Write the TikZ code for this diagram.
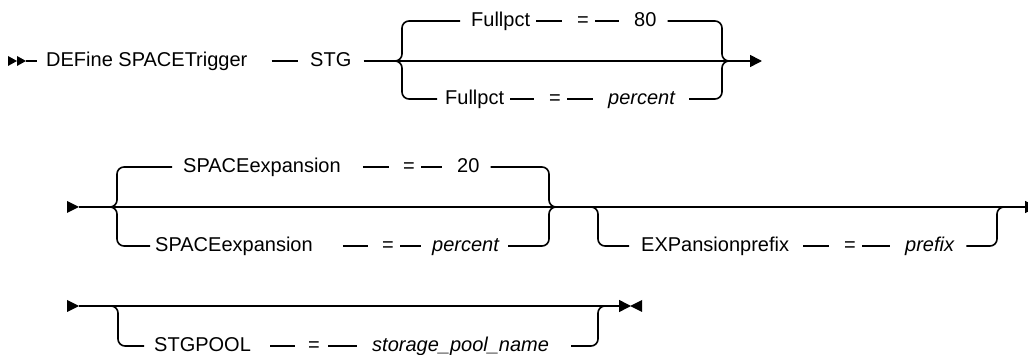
\documentclass[tikz,border=0pt]{standalone}
\usepackage{fontspec}
\setmainfont{Liberation Sans}
\usetikzlibrary{arrows.meta}

\begin{document}
\fontsize{20}{24}\selectfont
\begin{tikzpicture}[x=1pt,y=-1pt,
  kw/.style={font=\fontsize{20}{24}\selectfont,anchor=mid west,inner sep=0pt},
  varw/.style={kw,font=\fontsize{20}{24}\selectfont\itshape},
  rail/.style={line width=1.6pt},
  seg/.style={rail,shorten <=6pt,shorten >=15pt},
  brc/.style={rail,rounded corners=7pt},
  endtip/.style={-{Triangle[length=12pt,width=12pt]}},
  tipfill/.style={fill=black}]

\useasboundingbox (0,0) rectangle (1028,355);
\clip (0,0) rectangle (1028,355);

%% Row 1: DEFine SPACETrigger STG
\fill[tipfill] (8,56) -- (17,61) -- (8,66) -- cycle
               (17,56) -- (26,61) -- (17,66) -- cycle;
\coordinate (r1s) at (26,61);
\coordinate (r1e) at (762,61);
\coordinate (b1l) at (395,61);
\coordinate (b1r) at (729,61);

\node[kw] (t1)  at (46,61)  {DEFine SPACETrigger};
\node[kw] (stg) at (310,61) {STG};
\draw[rail,shorten >=9pt] (r1s) -- (t1.mid west);
\draw[seg,shorten <=24pt,shorten >=12pt] (t1.mid east) -- (stg.mid west);
\draw[rail,endtip,shorten <=12pt] (stg.mid east) -- (r1e);

\node[kw]   (fk1) at (471,21) {Fullpct};
\node[kw]   (fe1) at (577,21) {=};
\node[kw]   (fv1) at (634,21) {80};
\draw[brc,shorten >=11pt] (b1l) -- ++(7,0) |- (fk1.mid west);
\draw[seg] (fk1.mid east) -- (fe1.mid west);
\draw[seg] (fe1.mid east) -- (fv1.mid west);
\draw[brc,shorten <=11pt] (fv1.mid east) -| ([xshift=-7pt]b1r) -- (b1r);

\node[kw]   (fk2) at (445,99) {Fullpct};
\node[kw]   (fe2) at (549,99) {=};
\node[varw] (fv2) at (608,99) {percent};
\draw[brc,shorten >=8pt] (b1l) -- ++(7,0) |- (fk2.mid west);
\draw[seg] (fk2.mid east) -- (fe2.mid west);
\draw[seg] (fe2.mid east) -- (fv2.mid west);
\draw[brc,shorten <=14pt] (fv2.mid east) -| ([xshift=-7pt]b1r) -- (b1r);

%% Row 2: SPACEexpansion / EXPansionprefix
\fill[tipfill] (67,201) -- (79,207) -- (67,213) -- cycle;
\coordinate (r2s) at (79,207);
\coordinate (r2e) at (1037,207);
\coordinate (b2l) at (110,207);
\coordinate (b2r) at (556,207);
\coordinate (o1l) at (590,207);
\coordinate (o1r) at (1007,207);
\draw[rail,endtip] (r2s) -- (r2e);

\node[kw]   (sk1) at (183,167) {SPACEexpansion};
\node[kw]   (se1) at (403,167) {=};
\node[kw]   (sv1) at (457,167) {20};
\draw[brc,shorten >=11pt] (b2l) -- ++(7,0) |- (sk1.mid west);
\draw[seg,shorten <=22pt,shorten >=14pt] (sk1.mid east) -- (se1.mid west);
\draw[seg] (se1.mid east) -- (sv1.mid west);
\draw[brc,shorten <=11pt] (sv1.mid east) -| ([xshift=-7pt]b2r) -- (b2r);

\node[kw]   (sk2) at (155,246) {SPACEexpansion};
\node[kw]   (se2) at (382,246) {=};
\node[varw] (sv2) at (432,246) {percent};
\draw[brc,shorten >=5pt] (b2l) -- ++(7,0) |- (sk2.mid west);
\draw[seg,shorten <=30pt,shorten >=14pt] (sk2.mid east) -- (se2.mid west);
\draw[seg,shorten >=11pt] (se2.mid east) -- (sv2.mid west);
\draw[brc,shorten <=9pt] (sv2.mid east) -| ([xshift=-7pt]b2r) -- (b2r);

\node[kw]   (ek1) at (641,246) {EXPansionprefix};
\node[kw]   (ee1) at (844,246) {=};
\node[varw] (ev1) at (905,246) {prefix};
\draw[brc,shorten >=12pt] (o1l) -- ++(8,0) |- (ek1.mid west);
\draw[seg,shorten <=14pt] (ek1.mid east) -- (ee1.mid west);
\draw[seg] (ee1.mid east) -- (ev1.mid west);
\draw[brc,shorten <=12pt] (ev1.mid east) -| ([xshift=-10pt]o1r) -- (o1r);

%% Row 3: STGPOOL
\fill[tipfill] (67,300) -- (79,306) -- (67,312) -- cycle;
\coordinate (r3s) at (79,306);
\coordinate (r3e) at (631,306);
\coordinate (o2l) at (110,306);
\coordinate (o2r) at (606,306);
\draw[rail,endtip] (r3s) -- (r3e);
\fill[tipfill] (642,300) -- (630,306) -- (642,312) -- cycle;

\node[kw]   (gk1) at (154,346) {STGPOOL};
\node[kw]   (ge1) at (308,346) {=};
\node[varw] (gv1) at (372,346) {storage\_pool\_name};
\draw[brc,shorten >=10pt] (o2l) -- ++(8,0) |- (gk1.mid west);
\draw[seg,shorten <=19pt,shorten >=13pt] (gk1.mid east) -- (ge1.mid west);
\draw[seg,shorten <=8pt] (ge1.mid east) -- (gv1.mid west);
\draw[brc,shorten <=22pt] (gv1.mid east) -| ([xshift=-8pt]o2r) -- (o2r);
\end{tikzpicture}
\end{document}
